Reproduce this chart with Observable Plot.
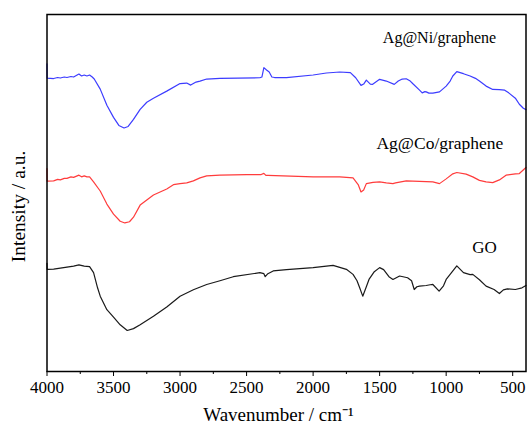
<!DOCTYPE html>
<html>
<head>
<meta charset="utf-8">
<script src="https://cdn.jsdelivr.net/npm/d3@7"></script>
<script src="https://cdn.jsdelivr.net/npm/@observablehq/plot@0.6"></script>
<style>
  html, body { margin: 0; padding: 0; background: white; }
</style>
</head>
<body>
<div id="chart"></div>
<script>
// FTIR spectra: [wavenumber (cm-1), intensity (a.u., offset)]
const seriesNames = ["Ag@Ni/graphene", "Ag@Co/graphene", "GO"];
const seriesColors = ["#3c3cff", "#ff3c3c", "#1a1a1a"];

const agNiGraphene = [
  [4000,307],[3999,293],[3950,292.5],[3920,293.5],[3900,293],[3870,294],[3850,293.5],[3820,294.5],[3800,294],[3760,297],[3740,295],[3720,296],
  [3700,295],[3680,296],[3660,294],[3645,292],[3600,282],[3550,266],[3500,254],[3460,246],[3421,243.5],
  [3390,245],[3350,252],[3300,262],[3250,269],[3200,273],[3100,280],[3000,287.5],[2950,288],
  [2920,286],[2880,289],[2850,290],[2800,292],[2700,292.7],[2400,293.3],[2385,294],[2370,303.3],
  [2350,301],[2330,299],[2310,294],[2290,293.5],[2200,293.5],[2000,296],[1900,298],[1800,299],
  [1720,298.3],[1680,293.3],[1640,285.7],[1620,287],[1600,291],[1570,287],[1555,286.7],[1500,291.7],
  [1450,290],[1390,286.7],[1360,290],[1330,292],[1300,292.3],[1270,290],[1250,287.3],[1200,281],
  [1180,278.3],[1160,279.5],[1150,279.3],[1130,278],[1100,278],[1050,279.3],[1000,285],[970,290],
  [950,295],[920,299.3],[870,297.3],[820,295],[780,292.7],[750,290],[700,285],[650,281.7],
  [600,281.5],[560,281],[530,278.3],[480,273],[450,267],[420,263],[400,261.7]
];

const agCoGraphene = [
  [4000,203.3],[3999,190.7],[3950,191],[3920,192.5],[3900,192],[3870,193.5],[3850,193.5],[3820,195],[3800,194.5],[3760,196.7],[3740,195],[3720,196],
  [3700,195],[3680,195],[3650,190],[3600,181],[3550,168],[3500,158],[3450,151],[3415,149.3],[3380,150.5],
  [3350,155],[3300,167],[3250,172],[3200,177],[3100,183],[3050,187.3],[3000,188.3],[2950,189],
  [2900,191],[2850,194],[2800,196],[2700,196.7],[2500,197.3],[2390,197.3],[2370,198.5],[2355,196.5],
  [2340,196.5],[2000,195],[1800,195],[1700,194],[1660,187],[1640,180],[1620,182],[1600,188.3],
  [1550,189.5],[1500,190],[1450,189],[1400,188.3],[1380,189],[1300,191],[1200,190.5],[1100,190],
  [1050,188.3],[1000,193],[950,198],[920,199.3],[850,197.7],[800,195],[750,191.5],[700,190],
  [650,189.3],[600,192],[550,196.7],[480,198],[450,198.3],[400,204.3]
];

const grapheneOxide = [
  [4000,109.3],[3999,103.3],[3950,103.5],[3900,104.5],[3850,105.5],[3800,106.5],[3760,107.7],[3720,106.5],
  [3680,106],[3650,100],[3620,85],[3600,76.7],[3550,63.3],[3500,56],[3450,48.3],[3397,42.7],
  [3350,44.5],[3300,48.3],[3200,56.7],[3100,66],[3000,76.7],[2900,83],[2800,88.3],[2700,92],
  [2600,96],[2400,100],[2370,99],[2360,96],[2340,99],[2300,101.7],[2200,103],[2000,105],
  [1850,107.3],[1750,103.3],[1700,98.3],[1670,92],[1650,85],[1627,76.7],[1600,86],[1580,93.3],
  [1540,101],[1500,105],[1470,103],[1430,96],[1400,93.3],[1350,96.7],[1290,95],[1260,92],
  [1240,83.3],[1220,86],[1200,86.7],[1150,87.3],[1120,88],[1100,88.3],[1053,81.7],[1020,87],
  [1000,93.3],[960,100],[920,106.7],[870,100],[820,98],[800,98.3],[750,93],[700,86.7],
  [640,83.3],[600,79.3],[570,83],[540,84],[480,83.3],[430,85],[400,87.3]
];

const majorTicks = [4000, 3500, 3000, 2500, 2000, 1500, 1000, 500];
const minorTicks = [3750, 3250, 2750, 2250, 1750, 1250, 750];

// label anchor points in data units
const seriesLabelX = [1050, 1047, 712];
const seriesLabelY = [333, 228, 125];

const spectra = [agNiGraphene, agCoGraphene, grapheneOxide];
const rows = spectra.flatMap((s, i) => s.map(([w, v]) => ({series: seriesNames[i], wn: w, val: v})));
const labels = seriesNames.map((name, i) => ({series: name, wn: seriesLabelX[i], val: seriesLabelY[i]}));
const labelSizes = [16, 17.5, 17];

const chart = Plot.plot({
  width: 527,
  height: 427,
  marginLeft: 46.5,
  marginRight: 1.5,
  marginTop: 14,
  marginBottom: 56,
  style: {fontFamily: "'Liberation Serif', 'Times New Roman', serif", fontSize: "17px", color: "black", background: "white"},
  x: {domain: [4000, 400], label: null},
  y: {domain: [2, 356], axis: null},
  color: {domain: seriesNames, range: seriesColors},
  marks: [
    Plot.line(rows, {x: "wn", y: "val", z: "series", stroke: "series", strokeWidth: 1.2}),
    Plot.axisX({ticks: majorTicks, tickSize: 5, tickPadding: 4, tickFormat: d3.format("d"), fontSize: 17, label: null, stroke: "black"}),
    Plot.axisX({ticks: minorTicks, tickSize: 3, tickFormat: null, text: null, label: null, stroke: "black"}),
    ...labels.map((l, i) => Plot.text([l], {x: "wn", y: "val", text: "series", fill: "black", fontSize: labelSizes[i], textAnchor: "middle", lineAnchor: "middle"})),
    Plot.text(["Intensity / a.u."], {frameAnchor: "left", rotate: -90, dx: -28.5, dy: 13.5, fontSize: 19.5, fill: "black", lineAnchor: "middle", textAnchor: "middle"}),
    Plot.text(["Wavenumber / cm⁻¹"], {frameAnchor: "bottom", dx: -8, dy: 43, fontSize: 19, fill: "black", lineAnchor: "middle", textAnchor: "middle"}),
    Plot.frame({stroke: "black", strokeWidth: 1.5})
  ]
});
document.getElementById("chart").appendChild(chart);
</script>
</body>
</html>
